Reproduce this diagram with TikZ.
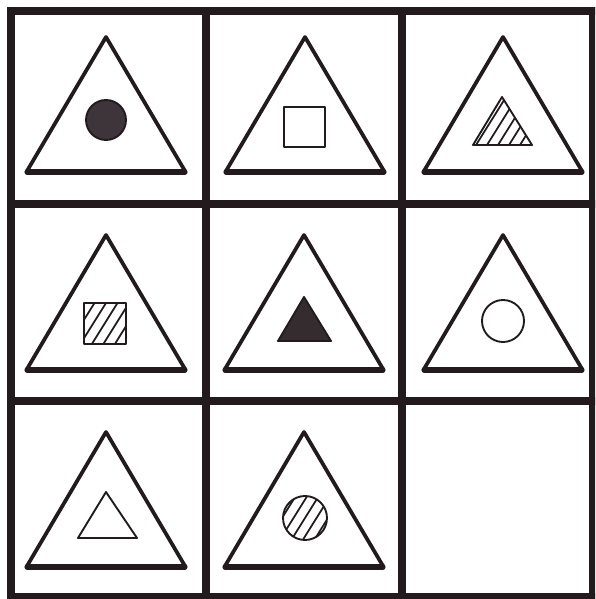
\documentclass[tikz,border=0pt]{standalone}
\usetikzlibrary{calc}
\definecolor{ink}{RGB}{35,26,30}

\tikzset{
  gridline/.style={draw=ink,line width=6pt},
  outertri/.style={draw=ink,line width=3.2pt,line join=round},
  basebar/.style={draw=ink,line width=4.4pt,line cap=round},
  innershape/.style={draw=ink,line width=1.6pt,line join=round},
  hatchline/.style={draw=ink,line width=1.5pt},
}

\begin{document}
\begin{tikzpicture}[x=0.03cm,y=-0.03cm]
\path[use as bounding box,clip] (0,0) rectangle (595,599);
\fill[white] (0,0) rectangle (595,599);

% grid
\foreach \gx in {11,206,402,593}
  \draw[gridline] (\gx,7) -- (\gx,601);
\foreach \gy in {11,204,401,597}
  \draw[gridline] (7,\gy) -- (598,\gy);

% big triangles: centre x / apex y
\foreach \cx/\ay in {106/37,305/37,503/37,106/235,304/235,503/235,106/432,304/432}{
  \draw[outertri] (\cx,\ay) -- (\cx+79,\ay+134) -- (\cx-79,\ay+134) -- cycle;
  \draw[basebar] (\cx-79,\ay+135) -- (\cx+79,\ay+135);
}

% row 1
\filldraw[innershape,fill=ink!88] (106,120) circle (20);
\draw[innershape] (284,107) rectangle (325,147);
\begin{scope}
  \clip (473,145) -- (502,97) -- (532,145) -- cycle;
  \foreach \k in {-4,...,4}
    \draw[hatchline] (502+\k*11-30,121+48) -- ++(60,-96);
\end{scope}
\draw[innershape] (473,145) -- (502,97) -- (532,145) -- cycle;

% row 2
\begin{scope}
  \clip (84,303) rectangle (126,344);
  \foreach \k in {-5,...,5}
    \draw[hatchline] (105+\k*11.5-30,323+48) -- ++(60,-96);
\end{scope}
\draw[innershape] (84,303) rectangle (126,344);
\filldraw[innershape,fill=ink!92] (304,297) -- (331,341) -- (278,341) -- cycle;
\draw[innershape] (503,321) circle (21);

% row 3
\draw[innershape] (106,492) -- (137,538) -- (78,538) -- cycle;
\begin{scope}
  \clip (305,518) circle (22);
  \foreach \k in {-5,...,5}
    \draw[hatchline] (305+\k*11.5-30,518+48) -- ++(60,-96);
\end{scope}
\draw[innershape] (305,518) circle (22);
\end{tikzpicture}
\end{document}
